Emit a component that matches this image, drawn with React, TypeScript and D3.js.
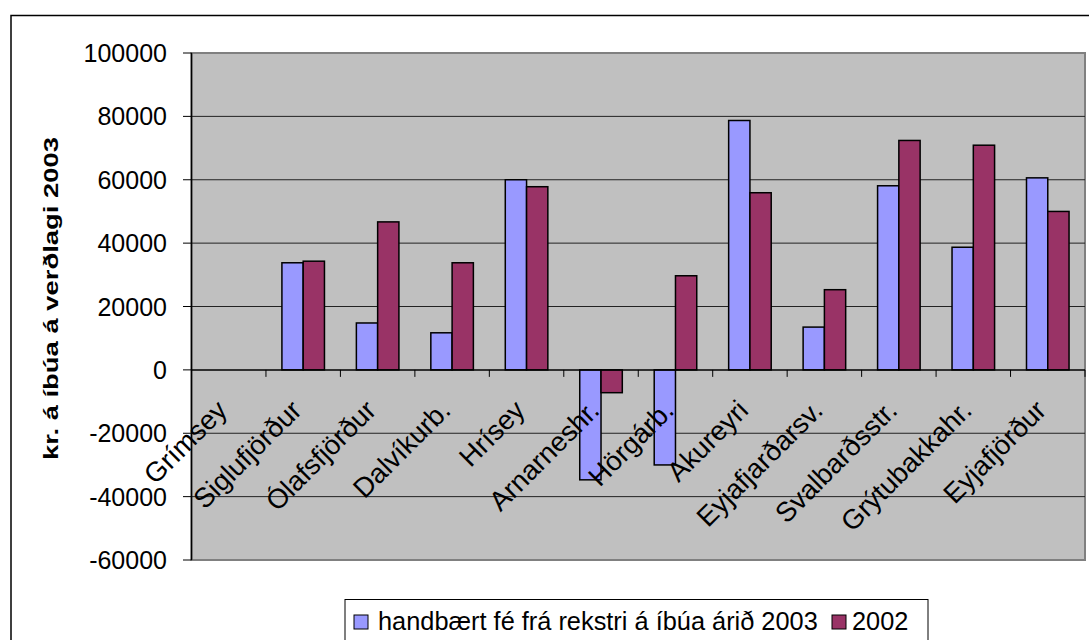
import React from "react";
import * as d3 from "d3";

const categories = [
  "Grímsey",
  "Siglufjörður",
  "Ólafsfjörður",
  "Dalvíkurb.",
  "Hrísey",
  "Arnarneshr.",
  "Hörgárb.",
  "Akureyri",
  "Eyjafjarðarsv.",
  "Svalbarðsstr.",
  "Grýtubakkahr.",
  "Eyjafjörður",
];
const series2003: (number | null)[] = [null, 33800, 14800, 11700, 60000, -34700, -30000, 78700, 13500, 58100, 38700, 60600];
const series2002: (number | null)[] = [null, 34300, 46700, 33800, 57800, -7200, 29700, 55900, 25300, 72400, 70900, 50000];
const yTicks = [100000, 80000, 60000, 40000, 20000, 0, -20000, -40000, -60000];
const seriesNames = ["handbært fé frá rekstri á íbúa árið 2003", "2002"];
const seriesColors = ["#9999FF", "#993366"];
const yTitle = "kr. á íbúa á verðlagi 2003";

const FONT = "'Liberation Sans', Arial, sans-serif";

function measure(text: string, size: number, weight = "normal"): number {
  if (typeof document === "undefined") return text.length * size * 0.5;
  const c = document.createElement("canvas");
  const ctx = c.getContext("2d");
  if (!ctx) return text.length * size * 0.5;
  ctx.font = `${weight} ${size}px ${FONT}`;
  return ctx.measureText(text).width;
}

export default function App() {
  const left = 191.5, right = 1085, top = 53, bottom = 560;
  const y = d3.scaleLinear().domain([-60000, 100000]).range([bottom, top]);
  const x = d3.scaleBand<string>().domain(categories).range([left, right]).padding(0);
  const bw = x.bandwidth();
  const barW = bw / 3.5;
  const pad = barW * 0.75;
  const y0 = y(0);
  const all = [series2003, series2002];

  const legSize = 25;
  const sx0 = 440 / measure(seriesNames[0], legSize);
  const titleSize = 20;
  const sTitle = 323 / measure(yTitle, titleSize, "bold");

  return (
    <svg width={1089} height={640} style={{ position: "absolute", left: 0, top: 0 }} fontFamily={FONT}>
      <rect x={0} y={0} width={1089} height={640} fill="#fff" />
      <rect x={11} y={15.5} width={1200} height={800} fill="none" stroke="#000" strokeWidth={1.5} />
      {/* plot area */}
      <rect x={left} y={top} width={right - left} height={bottom - top} fill="#C0C0C0" stroke="#808080" strokeWidth={2} />
      {yTicks.map((t) => (
        <g key={t}>
          {t !== 0 && t !== -60000 && t !== 100000 && (
            <line x1={left} x2={right} y1={y(t)} y2={y(t)} stroke="#222" strokeWidth={1} />
          )}
          <line x1={left - 8.5} x2={left} y1={y(t)} y2={y(t)} stroke="#000" strokeWidth={1} />
          <text x={167} y={y(t)} dy="0.36em" textAnchor="end" fontSize={25} fill="#000">
            {String(t)}
          </text>
        </g>
      ))}
      {/* bars */}
      {categories.map((c, i) => (
        <g key={c}>
          {all.map((s, j) => {
            const v = s[i];
            if (v === null) return null;
            const bx = (x(c) as number) + pad + j * barW;
            const yv = y(v);
            return (
              <rect
                key={j}
                x={bx}
                y={Math.min(yv, y0)}
                width={barW}
                height={Math.abs(yv - y0)}
                fill={seriesColors[j]}
                stroke="#000"
                strokeWidth={1.5}
              />
            );
          })}
        </g>
      ))}
      {/* x axis */}
      <line x1={left} x2={right} y1={y0} y2={y0} stroke="#000" strokeWidth={1.5} />
      {categories.map((c) => (
        <line key={c} x1={(x(c) as number) + bw} x2={(x(c) as number) + bw} y1={y0} y2={y0 + 7} stroke="#000" strokeWidth={1} />
      ))}
      <line x1={left} x2={left} y1={top} y2={bottom} stroke="#000" strokeWidth={1.5} />
      {/* category labels */}
      {categories.map((c) => {
        const cx = (x(c) as number) + bw / 2;
        const cy = 412;
        return (
          <text key={c} x={cx} y={cy} textAnchor="end" fontSize={27.5} fill="#000" transform={`rotate(-45 ${cx} ${cy})`}>
            {c}
          </text>
        );
      })}
      {/* y title */}
      <g transform="translate(58 298.5) rotate(-90)">
        <text x={0} y={0} textAnchor="middle" fontSize={titleSize} fontWeight="bold" fill="#000" transform={`scale(${sTitle} 1)`}>
          {yTitle}
        </text>
      </g>
      {/* legend */}
      <rect x={345} y={599.5} width={583} height={60} fill="#fff" stroke="#000" strokeWidth={1} />
      <rect x={354} y={615} width={14} height={14} fill={seriesColors[0]} stroke="#000" strokeWidth={1} />
      <g transform="translate(378 630)">
        <text x={0} y={0} fontSize={legSize} transform={`scale(${sx0} 1)`}>
          {seriesNames[0]}
        </text>
      </g>
      <rect x={832} y={615} width={14} height={14} fill={seriesColors[1]} stroke="#000" strokeWidth={1} />
      <g transform="translate(852 630)">
        <text x={0} y={0} fontSize={legSize} transform={`scale(${sx0} 1)`}>
          {seriesNames[1]}
        </text>
      </g>
    </svg>
  );
}
